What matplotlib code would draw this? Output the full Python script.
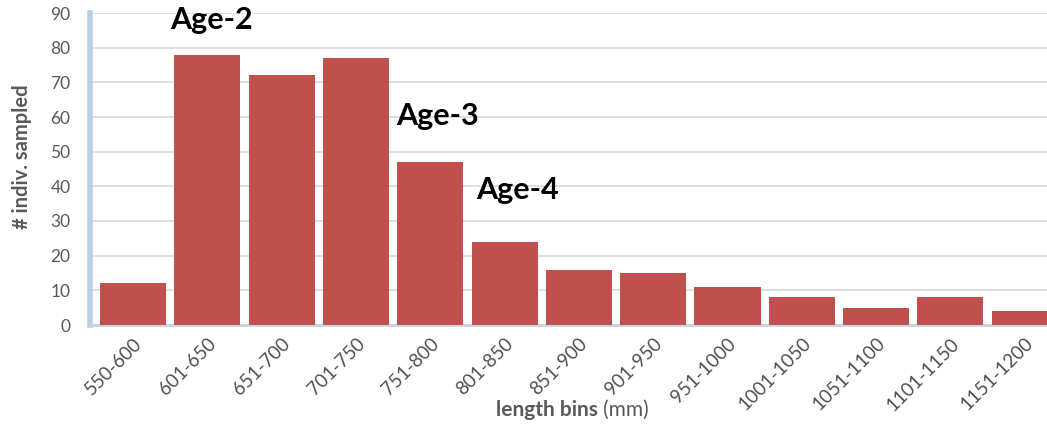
import matplotlib
matplotlib.use("Agg")
import matplotlib.pyplot as plt

categories = ["550-600", "601-650", "651-700", "701-750", "751-800", "801-850",
              "851-900", "901-950", "951-1000", "1001-1050", "1051-1100",
              "1101-1150", "1151-1200"]
counts = [12, 78, 72, 77, 47, 24, 16, 15, 11, 8, 5, 8, 4]
age_labels = ["Age-2", "Age-3", "Age-4"]
age_pos = [(1.06, 87.9), (4.09, 60.2), (5.18, 38.9)]

plt.rcParams['font.family'] = ['Lato', 'DejaVu Sans']

fig = plt.figure(figsize=(10.47, 4.25), dpi=100)
ax = fig.add_axes([90/1047, 1-325/425, 1-90/1047, (325-13)/425])

x = list(range(len(categories)))
ax.bar(x, counts, width=0.89, color="#C0504D", zorder=3)

ax.set_ylim(0, 90)
ax.set_xlim(-0.58, 12.30)
ax.set_yticks(range(0, 91, 10))
ax.yaxis.grid(True, color="#D9D9D9", linewidth=1.2, zorder=0)
ax.set_axisbelow(True)

for s in ["top", "right"]:
    ax.spines[s].set_visible(False)
ax.spines["left"].set_color("#B9CDE5")
ax.spines["left"].set_linewidth(4)
ax.spines["bottom"].set_color("#C9D3E0")
ax.spines["bottom"].set_linewidth(2)

ax.tick_params(axis="y", length=0, pad=14, labelsize=12.5, labelcolor="#595959")
ax.tick_params(axis="x", length=0, pad=7, labelsize=13.5, labelcolor="#505050")
ax.set_xticks(x)
ax.set_xticklabels(categories, rotation=45, ha="right", rotation_mode="anchor")

for lab, (px, py) in zip(age_labels, age_pos):
    ax.text(px, py, lab, fontsize=22, fontweight="bold", color="black",
            ha="center", va="center")

fig.text(22/1047, 1-157/425, "# indiv. sampled", rotation=90, fontsize=14.5,
         fontweight="bold", color="#595959", ha="center", va="center")

# x label with bold and normal parts
renderer = fig.canvas.get_renderer()
t1 = fig.text(0, 0, "length bins ", fontsize=15, fontweight="bold", color="#595959")
t2 = fig.text(0, 0, "(mm)", fontsize=15, color="#595959")
w1 = t1.get_window_extent(renderer).width
w2 = t2.get_window_extent(renderer).width
total = w1 + w2
cx = 572
ybase = 425 - 416
t1.set_position(((cx - total/2)/1047, ybase/425))
t2.set_position(((cx - total/2 + w1)/1047, ybase/425))

fig.savefig("out.png", dpi=100)
